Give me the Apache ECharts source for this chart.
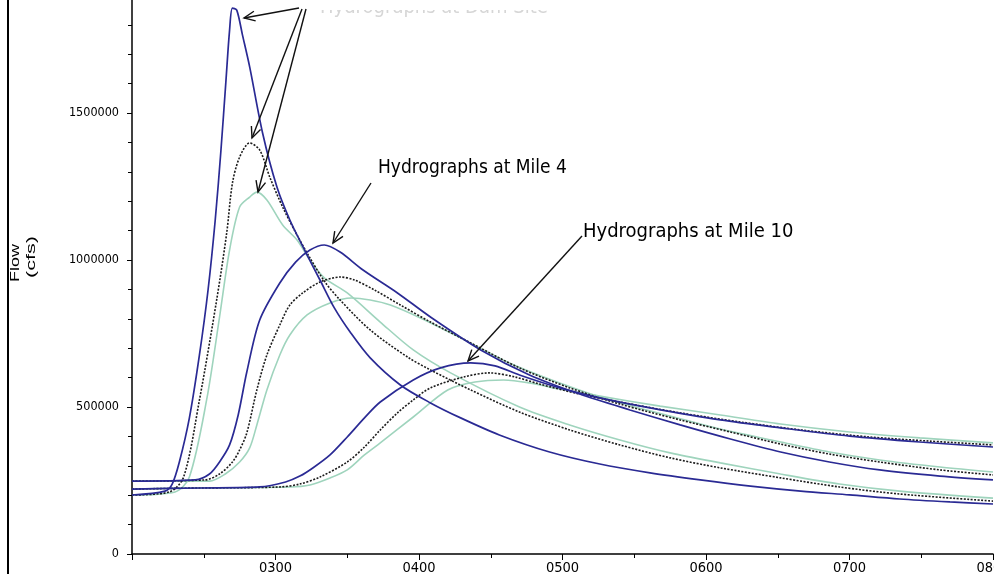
<!DOCTYPE html>
<html><head><meta charset="utf-8">
<script src="https://cdn.jsdelivr.net/npm/echarts@6/dist/echarts.min.js"></script>
<style>html,body{margin:0;padding:0;background:#fff}#c{width:994px;height:574px}</style>
</head><body><div id="c"></div>
<script>
// ---- data (x = clock hour, y = flow in cfs) ----
const xTickHours = [2, 3, 4, 5, 6, 7, 8];
const yTickValues = [0, 500000, 1000000, 1500000];

const damBlue = [[2.00,200700],[2.23,214000],[2.28,238000],[2.33,313000],[2.40,463000],[2.47,677000],[2.53,898000],[2.58,1136000],[2.62,1374000],[2.655,1612000],[2.68,1782000],[2.70,1857000],[2.73,1850000],[2.77,1765000],[2.82,1657000],[2.91,1432000],[3.01,1248000],[3.10,1136000],[3.21,1027000],[3.31,932000],[3.41,837000],[3.52,755000],[3.66,667000],[3.87,575000],[4.08,514000],[4.29,463000],[4.56,405000],[4.91,347000],[5.26,306000],[5.61,276000],[5.96,252000],[6.31,231000],[6.66,214000],[7.00,201000],[7.35,187000],[7.70,177000],[8.00,170000]];
const damDotted = [[2.00,200700],[2.26,211000],[2.36,262000],[2.47,524000],[2.59,864000],[2.66,1092000],[2.70,1262000],[2.75,1350000],[2.82,1398000],[2.89,1374000],[2.96,1282000],[3.05,1180000],[3.15,1085000],[3.24,1007000],[3.345,925000],[3.45,864000],[3.66,762000],[3.92,670000],[4.08,626000],[4.36,558000],[4.70,483000],[5.05,422000],[5.40,371000],[5.75,327000],[6.10,293000],[6.52,259000],[6.93,228000],[7.35,204000],[8.00,180000]];
const damLight = [[2.00,200700],[2.30,211000],[2.40,262000],[2.52,524000],[2.61,806000],[2.68,1034000],[2.75,1180000],[2.82,1214000],[2.87,1231000],[2.94,1204000],[3.05,1119000],[3.15,1068000],[3.24,1000000],[3.34,939000],[3.50,888000],[3.73,789000],[3.96,694000],[4.22,616000],[4.70,500000],[5.05,439000],[5.40,388000],[5.75,344000],[6.10,310000],[6.52,272000],[6.93,238000],[7.35,214000],[8.00,190000]];

const mile4Blue = [[2.00,248000],[2.44,252000],[2.54,272000],[2.61,313000],[2.68,371000],[2.74,473000],[2.80,619000],[2.89,796000],[3.03,922000],[3.14,993000],[3.24,1034000],[3.34,1051000],[3.45,1027000],[3.61,966000],[3.85,888000],[4.08,806000],[4.43,694000],[4.77,609000],[5.12,544000],[5.47,490000],[5.82,439000],[6.17,391000],[6.52,347000],[6.86,313000],[7.21,286000],[7.63,265000],[8.00,252000]];
const mile4Dotted = [[2.00,248000],[2.51,252000],[2.61,272000],[2.70,313000],[2.75,354000],[2.80,412000],[2.87,558000],[2.94,677000],[3.03,779000],[3.10,847000],[3.19,888000],[3.31,925000],[3.45,942000],[3.55,932000],[3.69,898000],[3.87,847000],[4.08,789000],[4.36,718000],[4.70,633000],[5.05,565000],[5.40,510000],[5.82,456000],[6.17,415000],[6.52,374000],[6.86,340000],[7.21,313000],[7.63,286000],[8.00,269000]];
const mile4Light = [[2.00,248000],[2.54,248000],[2.65,272000],[2.75,313000],[2.82,361000],[2.87,439000],[2.94,558000],[3.03,677000],[3.10,745000],[3.22,813000],[3.38,854000],[3.53,871000],[3.66,864000],[3.80,847000],[4.01,803000],[4.29,735000],[4.63,650000],[4.98,582000],[5.33,524000],[5.75,469000],[6.10,425000],[6.52,381000],[6.86,347000],[7.21,320000],[7.63,296000],[8.00,279000]];

const mile10Blue = [[2.00,221000],[2.47,224500],[2.89,228000],[3.07,245000],[3.17,265000],[3.26,292500],[3.38,337000],[3.50,398000],[3.62,463000],[3.73,517000],[3.96,592000],[4.15,633000],[4.36,650000],[4.53,640000],[4.70,609000],[4.98,565000],[5.26,531000],[5.61,497000],[6.10,456000],[6.52,429000],[7.00,401000],[7.49,381000],[8.00,364000]];
const mile10Dotted = [[2.00,221000],[2.47,224500],[3.03,228000],[3.17,238000],[3.31,262000],[3.50,313000],[3.62,364000],[3.73,422000],[3.85,480000],[3.96,524000],[4.08,565000],[4.31,602000],[4.49,616000],[4.67,602000],[4.84,578000],[5.12,544000],[5.40,517000],[5.82,480000],[6.24,449000],[6.66,422000],[7.14,398000],[7.56,384000],[8.00,371000]];
const mile10Light = [[2.00,221000],[2.47,224500],[3.10,228000],[3.24,235000],[3.38,258500],[3.50,286000],[3.62,337000],[3.73,378000],[3.96,466000],[4.20,558000],[4.39,585000],[4.59,592000],[4.77,582000],[4.98,561000],[5.26,537000],[5.68,503000],[6.10,473000],[6.52,442000],[7.00,415000],[7.49,395000],[8.00,378000]];

const seriesNames = ['Dam A','Dam B','Dam C','Mile 4 A','Mile 4 B','Mile 4 C','Mile 10 A','Mile 10 B','Mile 10 C'];
const noteMile4 = 'Hydrographs at Mile 4';
const noteMile10 = 'Hydrographs at Mile 10';
const noteTop = 'Hydrographs at Dam Site';

// ---- styles ----
const NARROW = "'Liberation Sans Narrow','Arial Narrow','DejaVu Sans Condensed',sans-serif";
const BLUE = '#2a2a94', DOT = '#1c1c1c', LIGHT = '#9fd4bd';
const kinds = {
  blue: {color: BLUE, width: 1.7, type: 'solid', z: 5},
  dot: {color: DOT, width: 1.6, type: [2, 1.5], z: 4},
  light: {color: LIGHT, width: 1.6, type: 'solid', z: 3}
};
function mk(name, data, k) {
  const s = kinds[k];
  return {name, type: 'line', data, showSymbol: false, smooth: 0.3, z: s.z,
    lineStyle: {color: s.color, width: s.width, type: s.type}, itemStyle: {color: s.color}};
}
const series = [
  mk(seriesNames[2], damLight, 'light'), mk(seriesNames[5], mile4Light, 'light'), mk(seriesNames[8], mile10Light, 'light'),
  mk(seriesNames[1], damDotted, 'dot'), mk(seriesNames[4], mile4Dotted, 'dot'), mk(seriesNames[7], mile10Dotted, 'dot'),
  mk(seriesNames[0], damBlue, 'blue'), mk(seriesNames[3], mile4Blue, 'blue'), mk(seriesNames[6], mile10Blue, 'blue')
];

function arrow(x1, y1, x2, y2) {
  const a = Math.atan2(y2 - y1, x2 - x1), L = 12, w = 0.42;
  return [
    {type: 'line', z: 100, shape: {x1, y1, x2, y2}, style: {stroke: '#111', lineWidth: 1.4}},
    {type: 'polyline', z: 100, shape: {points: [[x2 - L * Math.cos(a - w), y2 - L * Math.sin(a - w)], [x2, y2], [x2 - L * Math.cos(a + w), y2 - L * Math.sin(a + w)]]},
      style: {stroke: '#111', lineWidth: 1.4, fill: null}}
  ];
}

const graphic = [
  {type: 'rect', z: 100, shape: {x: 7, y: 0, width: 2, height: 574}, style: {fill: '#000'}},
  {type: 'text', z: 100, x: 16, y: 263, rotation: Math.PI / 2, scaleX: 1.5,
    style: {text: 'Flow', font: '12px Liberation Sans', fill: '#000', align: 'center', verticalAlign: 'middle'}},
  {type: 'text', z: 100, x: 32, y: 257, rotation: Math.PI / 2, scaleX: 1.8,
    style: {text: '(cfs)', font: '12px Liberation Sans', fill: '#000', align: 'center', verticalAlign: 'middle'}},
  {type: 'text', z: 100, x: 378, y: 168,
    style: {text: noteMile4, font: '19px ' + NARROW, fill: '#000', align: 'left', verticalAlign: 'middle'}},
  {type: 'text', z: 100, x: 583, y: 232,
    style: {text: noteMile10, font: '20px ' + NARROW, fill: '#000', align: 'left', verticalAlign: 'middle'}},
  {type: 'text', z: 99, x: 320, y: 18,
    style: {text: noteTop, font: '20px ' + NARROW, fill: '#d6d6d6', align: 'left', verticalAlign: 'bottom'}},
  {type: 'rect', z: 100, shape: {x: 314, y: 0, width: 250, height: 10}, style: {fill: '#fff'}},
  ...arrow(299, 8, 244, 18),
  ...arrow(302, 9, 252, 138),
  ...arrow(306, 9, 258, 192),
  ...arrow(371, 183, 333, 243),
  ...arrow(582, 236, 468, 361)
];

const chart = echarts.init(document.getElementById('c'));
chart.setOption({
  animation: false,
  backgroundColor: '#fff',
  grid: {left: 132, right: 1, top: -34, bottom: 20, containLabel: false, outerBoundsMode: 'none'},
  xAxis: {
    type: 'value', min: xTickHours[0], max: xTickHours[xTickHours.length - 1], interval: 1,
    axisLine: {show: true, onZero: false, lineStyle: {color: '#000', width: 1.5}},
    axisTick: {show: true, length: 6, lineStyle: {color: '#000', width: 1}},
    minorTick: {show: true, splitNumber: 2, length: 4, lineStyle: {color: '#000', width: 1}},
    splitLine: {show: false},
    axisLabel: {showMinLabel: false, margin: 7, fontFamily: NARROW, fontSize: 14.5, color: '#000',
      formatter: v => xTickHours.includes(v) ? ('0' + v + '00') : ''}
  },
  yAxis: {
    type: 'value', min: 0, max: 2000000, interval: 500000,
    axisLine: {show: true, onZero: false, lineStyle: {color: '#000', width: 1.5}},
    axisTick: {show: true, length: 5, lineStyle: {color: '#000', width: 1}},
    minorTick: {show: true, splitNumber: 5, length: 4, lineStyle: {color: '#000', width: 1}},
    splitLine: {show: false},
    axisLabel: {margin: 13, fontFamily: NARROW, fontSize: 12.5, color: '#000',
      formatter: v => yTickValues.includes(v) ? String(v) : ''}
  },
  series,
  graphic
});
</script></body></html>
